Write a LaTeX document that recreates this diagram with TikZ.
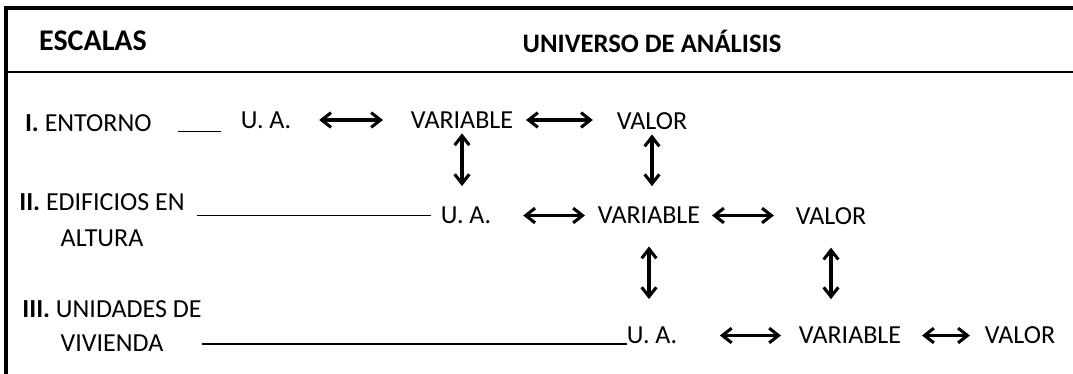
\documentclass[tikz,border=0pt]{standalone}
\usepackage{fontspec}
\setmainfont{Carlito}
\usetikzlibrary{arrows.meta}

\tikzset{
  item/.style={inner sep=0pt, outer sep=0pt, font=\fontsize{19.5}{25.5}\selectfont},
  head/.style={item, font=\fontsize{20}{24}\selectfont\bfseries},
  rowlabel/.style={item, align=center, anchor=north},
  link/.style={{Straight Barb[length=7pt,width=11pt]}-{Straight Barb[length=7pt,width=11pt]}, line width=2.3pt},
  lead/.style={line width=1pt},
}

\begin{document}
\begin{tikzpicture}[x=0.75pt, y=-0.75pt]
        \useasboundingbox (0,0) rectangle (1073,374);

        % frame
        \draw[line width=2.6pt] (1073,8) -- (6,8) -- (6,374);
        \draw[line width=0.9pt] (6,72) -- (1073,72);

        \node[head, font=\fontsize{22.5}{26}\selectfont\bfseries] (escalas) at (93,41) {ESCALAS};
        \node[head] (universo) at (652,41) {UNIVERSO DE ANÁLISIS};

        % I. entorno
        \node[item, anchor=west] (lab1) at (25,123) {\textbf{I.} ENTORNO};
        \node[item] (ua1) at (266,120) {U. A.};
        \node[item] (var1) at (462,120) {VARIABLE};
        \node[item] (val1) at (652,121) {VALOR};

        % II. edificios en altura
        \node[rowlabel] (lab2) at (102,194) {\textbf{II.} EDIFICIOS EN\\[1.5pt]ALTURA};
        \node[item] (ua2) at (466,215.5) {U. A.};
        \node[item] (var2) at (649,215.5) {VARIABLE};
        \node[item] (val2) at (831,216.5) {VALOR};

        % III. unidades de vivienda
        \node[rowlabel] (lab3) at (112,301) {\textbf{III.} UNIDADES DE\\VIVIENDA};
        \node[item] (ua3) at (652,335.5) {U. A.};
        \node[item] (var3) at (850,335.5) {VARIABLE};
        \node[item] (val3) at (1020,335.5) {VALOR};

        \draw[lead] ([xshift=20pt]lab1.south east) -- ([xshift=-15pt]ua1.west |- lab1.south east);
        \draw[lead, shorten <=9pt, shorten >=7.5pt] (lab2.east |- ua2.west) -- (ua2.west);
        \draw[lead] (lab3.east |- ua3.south west) -- (ua3.south west);

        \draw[link, shorten <=21pt, shorten >=21pt] (ua1.east) -- (var1.west);
        \draw[link, shorten <=9.75pt, shorten >=18pt] (var1.east) -- (val1.west |- var1.east);
        \draw[link, shorten <=24pt, shorten >=9.75pt] (ua2.east) -- (var2.west);
        \draw[link, shorten <=9pt, shorten >=16.5pt] (var2.east) -- (val2.west |- var2.east);
        \draw[link, shorten <=32pt, shorten >=13.5pt] (ua3.east) -- (var3.west);
        \draw[link, shorten <=15.75pt, shorten >=11.25pt] (var3.east) -- (val3.west);

        \draw[link, shorten <=3.75pt, shorten >=15.75pt] (var1.south) -- (var1.south |- ua2.north);
        \draw[link, shorten <=3.75pt, shorten >=15.75pt] (val1.south) -- (val1.south |- var2.north);
        \draw[link, shorten <=17pt, shorten >=21pt] (var2.south) -- (var2.south |- ua3.north);
        \draw[link, shorten <=17pt, shorten >=21pt] (val2.south) -- (val2.south |- var3.north);
\end{tikzpicture}
\end{document}
